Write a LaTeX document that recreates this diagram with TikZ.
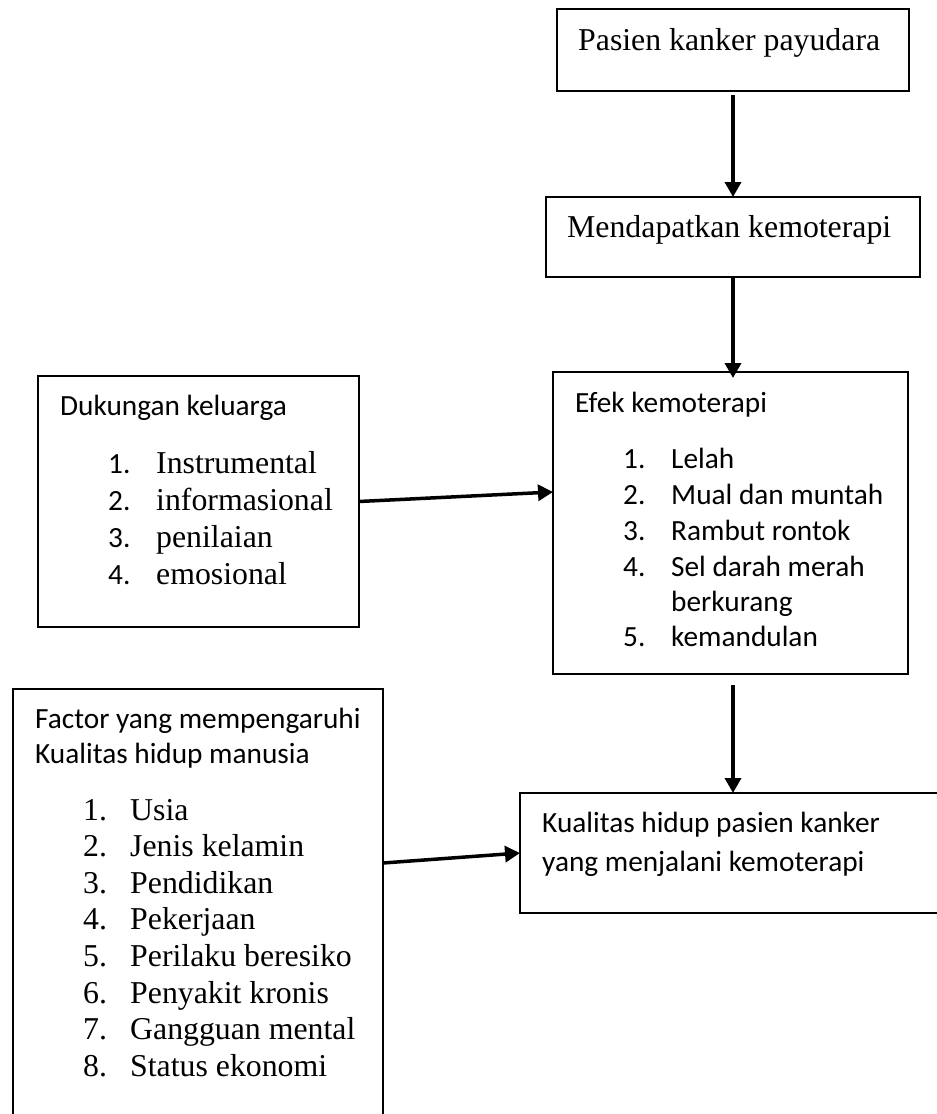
\documentclass[tikz,border=0pt]{standalone}
\usepackage{fontspec}
\setmainfont{Liberation Serif}
\newfontfamily\calfont{Carlito}
\usetikzlibrary{arrows.meta,calc}
\begin{document}
\begin{tikzpicture}[x=1pt,y=-1pt,
  box/.style={draw, line width=1.5pt, inner sep=0pt, outer sep=0pt, anchor=north west},
  tnr/.style={anchor=base west, inner sep=0pt, font=\fontsize{31.8}{36}\selectfont},
  cal/.style={anchor=base west, inner sep=0pt, font=\calfont\fontsize{29.3}{35}\selectfont},
  arr/.style={line width=3.5pt, -{Triangle[length=15pt,width=16pt]}}]
\useasboundingbox (0,0) rectangle (937,1114);
\clip (0,0) rectangle (937,1114);

% boxes
\node[box, minimum width=352pt, minimum height=82pt] (b1) at (557,9) {};
\node[box, minimum width=374pt, minimum height=80pt] (b2) at (546,197) {};
\node[box, minimum width=355pt, minimum height=302pt] (b3) at (553,372) {};
\node[box, minimum width=321pt, minimum height=251pt] (b4) at (38,376) {};
\node[box, minimum width=370pt, minimum height=460pt] (b5) at (13,689) {};
\node[box, minimum width=440pt, minimum height=120pt] (b6) at (520,793) {};

% texts
\node[tnr] (t1) at (578,50) {Pasien kanker payudara};
\node[tnr] (t2) at (567,237) {Mendapatkan kemoterapi};

\node[cal] (t3) at (575,412) {Efek kemoterapi};
\node[cal] (e1n) at (623,468) {1.};
\node[cal] (e1) at (671,468) {Lelah};
\node[cal] (e2n) at (623,504) {2.};
\node[cal] (e2) at (671,504) {Mual dan muntah};
\node[cal] (e3n) at (623,540) {3.};
\node[cal] (e3) at (671,540) {Rambut rontok};
\node[cal] (e4n) at (623,576) {4.};
\node[cal] (e4) at (671,576) {Sel darah merah};
\node[cal] (e4b) at (671,611) {berkurang};
\node[cal] (e5n) at (623,646) {5.};
\node[cal] (e5) at (671,646) {kemandulan};

\node[cal] (t4) at (60,415) {Dukungan keluarga};
\node[cal] (d1n) at (108,473) {1.};
\node[tnr] (d1) at (156,473) {Instrumental};
\node[cal] (d2n) at (108,510) {2.};
\node[tnr] (d2) at (156,510) {informasional};
\node[cal] (d3n) at (108,547) {3.};
\node[tnr] (d3) at (156,547) {penilaian};
\node[cal] (d4n) at (108,584) {4.};
\node[tnr] (d4) at (156,584) {emosional};

\node[cal] (t5a) at (35,728) {Factor yang mempengaruhi};
\node[cal] (t5b) at (35,763) {Kualitas hidup manusia};
\foreach \i/\txt in {1/Usia,2/Jenis kelamin,3/Pendidikan,4/Pekerjaan,5/Perilaku beresiko,6/Penyakit kronis,7/Gangguan mental,8/Status ekonomi}{
  \node[tnr] (f\i n) at (83,{820+36.6*(\i-1)}) {\i.};
  \node[tnr] (f\i) at (130,{820+36.6*(\i-1)}) {\txt};
}

\node[cal] (t6a) at (542,832) {Kualitas hidup pasien kanker};
\node[cal] (t6b) at (542,871) {yang menjalani kemoterapi};

% connectors
\draw[arr] ([yshift=-4pt]b1.south) -- (b2.north);
\draw[arr] (b2.south) -- ([yshift=-6pt]b2.south |- b3.north);
\coordinate (s3) at ([yshift=-11pt]b3.south);
\draw[arr] (s3 -| b2.south) -- (b2.south |- b6.north);
\draw[arr] (b4.east) -- ([yshift=-120pt]b3.north west);
\draw[arr] ([yshift=-174pt]b5.north east) -- (b6.west);
\end{tikzpicture}
\end{document}
